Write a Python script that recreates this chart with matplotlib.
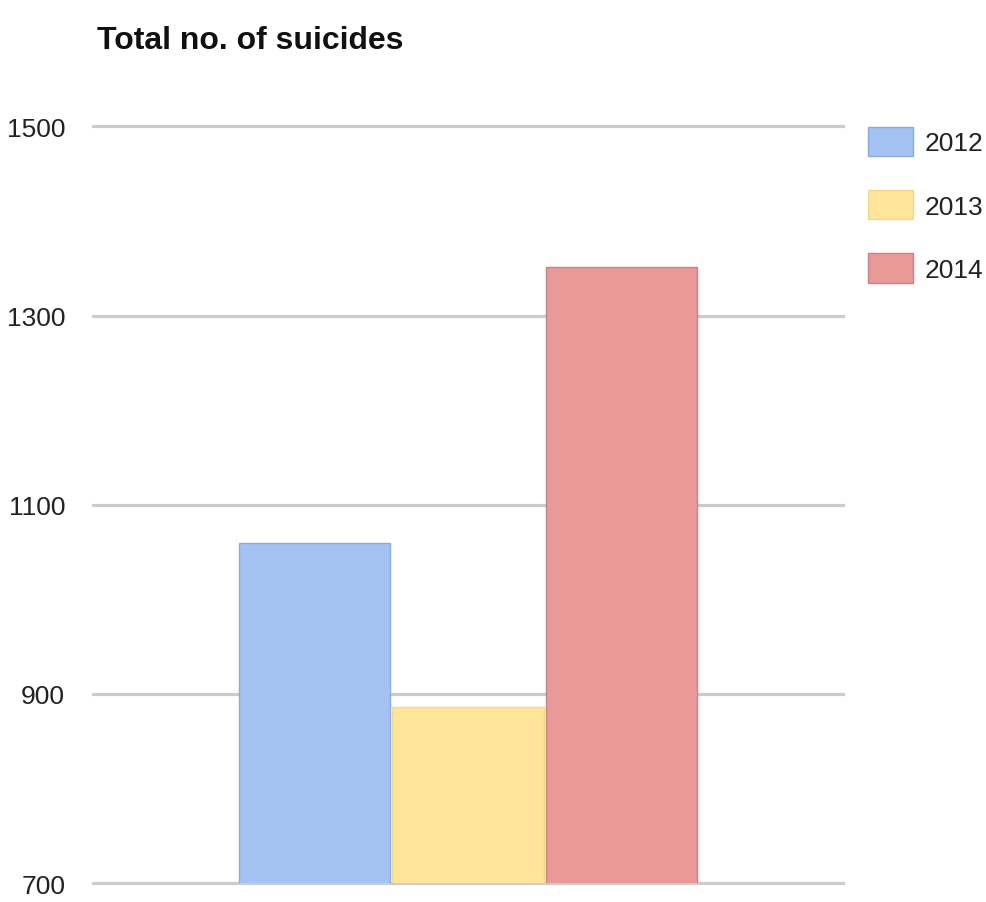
import matplotlib
matplotlib.use("Agg")
import matplotlib.pyplot as plt
from matplotlib import font_manager

years = ["2012", "2013", "2014"]
suicides = [1060, 886, 1351]
bar_colors = ["#a4c2f4", "#ffe599", "#ea9999"]
edge_colors = ["#8aa9de", "#f0d88c", "#c98282"]
y_ticks = [700, 900, 1100, 1300, 1500]

# narrow font looks closer to the squashed original, if it's there
names = {f.name for f in font_manager.fontManager.ttflist}
if "Liberation Sans Narrow" in names:
    family = ["Liberation Sans Narrow", "DejaVu Sans"]
    tick_size, title_size = 22, 28
else:
    family = ["Liberation Sans", "DejaVu Sans"]
    tick_size, title_size = 19, 23
plt.rcParams["font.family"] = family

fig = plt.figure(figsize=(9.86, 9.03), dpi=100)
ax = fig.add_axes([0.0943, 0.021, 0.7607, 0.838])

x = range(len(years))
bars = ax.bar(x, suicides, width=0.984, color=bar_colors,
              edgecolor=edge_colors, linewidth=1, zorder=3)

ax.set_ylim(700, 1500)
ax.set_xlim(-1.443, 3.443)
ax.set_yticks(y_ticks)
ax.set_yticklabels([str(t) for t in y_ticks], fontsize=tick_size, color="#222222")
ax.set_xticks([])
ax.tick_params(axis="y", length=0, pad=20)
ax.grid(axis="y", color="#cccccc", linewidth=2.3, zorder=0)
for gl in ax.get_ygridlines():
    gl.set_clip_on(False)  # so 700 and 1500 lines aren't cut in half
for s in ax.spines.values():
    s.set_visible(False)

fig.text(0.098, 0.955, "Total no. of suicides", fontsize=title_size,
         fontweight="bold", color="#111111", va="center", ha="left")

# legend boxes are big in the original, ~45x35 px
fs_px = tick_size * 100 / 72
leg = fig.legend(handles=list(bars), labels=years, loc="upper left",
                 bbox_to_anchor=(868 / 986, 1 - 128 / 903), frameon=False,
                 fontsize=tick_size, borderpad=0, borderaxespad=0,
                 handlelength=45 / fs_px, handleheight=35 / fs_px,
                 labelspacing=34 / fs_px, handletextpad=12 / fs_px)
for t in leg.get_texts():
    t.set_color("#222222")

fig.savefig("out.png", dpi=100)
